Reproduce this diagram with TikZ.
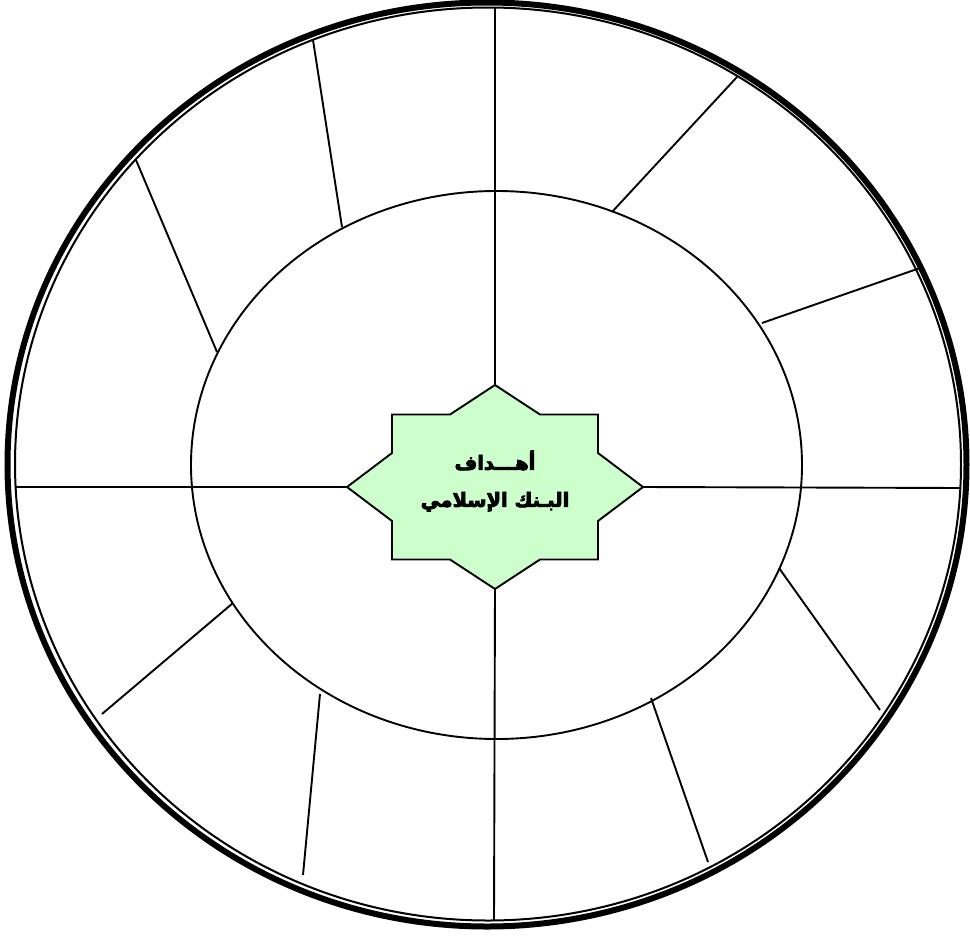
\documentclass[tikz,border=0pt]{standalone}
\usepackage{fontspec}
\newfontfamily\arabicfont[Script=Arabic, BoldFont={DejaVu Sans Bold}, BoldFeatures={FakeBold=4}]{DejaVu Sans}
\TeXXeTstate=1
\definecolor{stargreen}{HTML}{CCFFCC}
\begin{document}
\begin{tikzpicture}[x=1pt,y=-1pt,
  spoke/.style={line width=1.9pt, black},
  ring/.style={line width=1.9pt, black},
  startitle/.style={align=center, font=\arabicfont\bfseries\fontsize{19.5}{37}\selectfont, inner sep=0pt}]
\useasboundingbox (0,0) rectangle (970,937);
\fill[white] (0,0) rectangle (970,937);
% outer double ring
\draw[line width=6pt] (487,464.5) ellipse [x radius=479.5pt, y radius=462pt];
\draw[line width=2pt] (488,464) ellipse [x radius=473pt, y radius=456.5pt];
% inner ellipse
\draw[ring] (496.5,465) ellipse [x radius=305.5pt, y radius=274pt];
% star points
\coordinate (st) at (495,385);
\coordinate (sb) at (495,589);
\coordinate (sl) at (347,487);
\coordinate (sr) at (643,487);
% outer ends of the four axes
\coordinate (ot) at (495,7);
\coordinate (ob) at (494,921);
\coordinate (ol) at (15,487);
\coordinate (or) at (961,488);
\draw[spoke] (st) -- (ot);
\draw[spoke] (sb) -- (ob);
\draw[spoke] (sl) -- (ol);
\draw[spoke] (sr) -- (or);
% other spokes between ellipse and outer ring
\foreach \i/\ax/\ay/\bx/\by in {1/342/227/313/40, 2/217/352/136/160, 3/612/212/737/77,
  4/762/323/920/268, 5/779/568/880/710, 6/651/698/708/862, 7/320/694/303/875, 8/233/603/102/714}{
  \coordinate (in\i) at (\ax,\ay);
  \coordinate (out\i) at (\bx,\by);
  \draw[spoke] (in\i) -- (out\i);
}
% star
\draw[line width=1.9pt, fill=stargreen, line join=miter]
  (st) -- (450,414.5) -- (392,414.5) -- (392,453) -- (sl) -- (392,521) -- (392,559.5)
  -- (450,559.5) -- (sb) -- (540,559.5) -- (598,559.5) -- (598,521) -- (sr)
  -- (598,453) -- (598,414.5) -- (540,414.5) -- cycle;
\node[startitle] (title) at (495,481) {\beginR أهـــداف\endR\\\beginR البـنك الإسلامي\endR};
\end{tikzpicture}
\end{document}
